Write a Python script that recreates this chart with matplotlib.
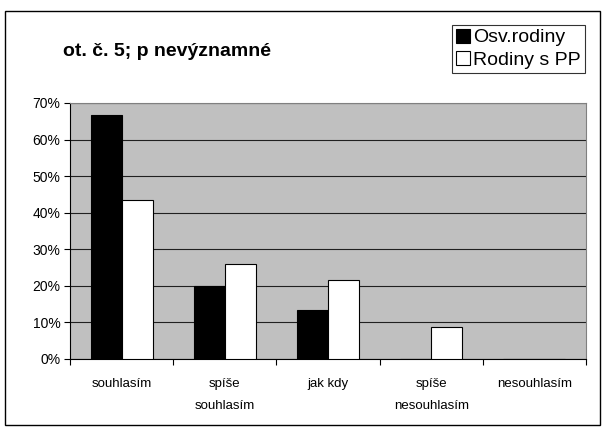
import numpy as np
import matplotlib.pyplot as plt
from matplotlib.patches import Rectangle
from matplotlib.ticker import FuncFormatter

plt.rcParams['font.family'] = ['Liberation Sans', 'DejaVu Sans']

categories = ['souhlasím', 'spíše\nsouhlasím', 'jak kdy', 'spíše\nnesouhlasím', 'nesouhlasím']
osv_rodiny = [66.7, 20.0, 13.3, 0.0, 0.0]
rodiny_pp = [43.5, 26.1, 21.7, 8.7, 0.0]
yticks = [0, 10, 20, 30, 40, 50, 60, 70]

W, H = 604, 432
fig = plt.figure(figsize=(W/100, H/100), dpi=100)
# outer chart border
fig.patches.append(Rectangle((5/W, 1-425/H), 595/W, 414/H, transform=fig.transFigure,
                             fill=False, edgecolor='black', lw=1))

ax = fig.add_axes([70/W, 1-359/H, 516/W, 256/H])
ax.set_facecolor('#c0c0c0')

x = np.arange(len(categories))
bw = 0.3
ax.bar(x - bw/2, osv_rodiny, bw, color='black', edgecolor='black', lw=0.8,
       label='Osv.rodiny', zorder=3)
ax.bar(x + bw/2, rodiny_pp, bw, color='white', edgecolor='black', lw=0.8,
       label='Rodiny s PP', zorder=3)

ax.set_xlim(-0.5, len(categories) - 0.5)
ax.set_ylim(0, 70)
ax.set_yticks(yticks)
ax.yaxis.set_major_formatter(FuncFormatter(lambda v, p: f'{v:.0f}%'))
ax.yaxis.grid(True, color='#202020', lw=0.8, zorder=1)
ax.tick_params(axis='y', length=4, labelsize=10, pad=3)

ax.set_xticks(np.arange(len(categories) + 1) - 0.5)
ax.set_xticklabels([])
ax.set_xticks(x, minor=True)
ax.set_xticklabels(categories, minor=True, fontsize=9.5, linespacing=2.1)
ax.tick_params(axis='x', which='major', length=4)
ax.tick_params(axis='x', which='minor', length=0, pad=14)

for s in ['top', 'right']:
    ax.spines[s].set_color('#808080')
for s in ['left', 'bottom']:
    ax.spines[s].set_color('black')

fig.text(63/W, 1-56/H, 'ot. č. 5; p nevýznamné', fontsize=14, fontweight='bold',
         va='baseline', ha='left')

leg = fig.legend(loc='upper left', bbox_to_anchor=(452/W, 1-25/H), fontsize=14,
                 frameon=True, fancybox=False, edgecolor='black', handlelength=0.7,
                 handleheight=0.7, handletextpad=0.2, borderpad=0.2, labelspacing=0.25,
                 borderaxespad=0)
leg.get_frame().set_linewidth(0.8)

fig.savefig('out.png', dpi=100)
